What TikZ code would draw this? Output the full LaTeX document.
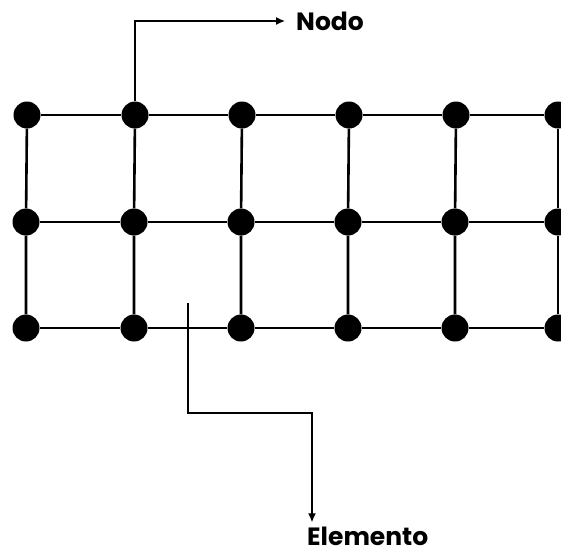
\documentclass[tikz,border=0pt]{standalone}
\usepackage{fontspec}
\setmainfont{Poppins}
\usepackage{tikz}
\usetikzlibrary{arrows.meta}

\tikzset{
	dot/.style={circle,fill=black,draw=none,minimum size=27pt,inner sep=0pt},
	tag/.style={font=\bfseries\fontsize{25}{25}\selectfont,inner xsep=11pt,inner ysep=0pt},
	bar/.style={line width=2.6pt},
	pointer/.style={line width=1.3pt,-{Latex[length=9pt,width=8pt]}}
}

\begin{document}
\begin{tikzpicture}[x=1pt,y=-1pt]
		\useasboundingbox (0,0) rectangle (561,555);
		\clip (0,0) rectangle (561,555);

		\node[dot] (A1) at (27,115) {};
		\node[dot] (A2) at (135,115) {};
		\node[dot] (A3) at (242,115) {};
		\node[dot] (A4) at (349,115) {};
		\node[dot] (A5) at (456,115) {};
		\node[dot] (A6) at (558,115) {};

		\node[dot] (B1) at (26,222) {};
		\node[dot] (B2) at (134,222) {};
		\node[dot] (B3) at (241,222) {};
		\node[dot] (B4) at (348,222) {};
		\node[dot] (B5) at (455,222) {};
		\node[dot] (B6) at (558,222) {};

		\node[dot] (C1) at (26,328) {};
		\node[dot] (C2) at (134,328) {};
		\node[dot] (C3) at (241,328) {};
		\node[dot] (C4) at (348,328) {};
		\node[dot] (C5) at (455,328) {};
		\node[dot] (C6) at (558,328) {};

		\draw[bar] (A1) -- (A2) -- (A3) -- (A4) -- (A5) -- (A6);
		\draw[bar] (B1) -- (B2) -- (B3) -- (B4) -- (B5) -- (B6);
		\draw[bar] (C1) -- (C2) -- (C3) -- (C4) -- (C5) -- (C6);

		\draw[bar] (A1) -- (B1) -- (C1);
		\draw[bar] (A2) -- (B2) -- (C2);
		\draw[bar] (A3) -- (B3) -- (C3);
		\draw[bar] (A4) -- (B4) -- (C4);
		\draw[bar] (A5) -- (B5) -- (C5);
		\draw[bar] (A6) -- (B6) -- (C6);

		\node[tag,anchor=west] (nodo) at (285,21) {Nodo};
		\draw[pointer] (A2) |- (nodo);

		\coordinate (cell) at (188,303);
		\coordinate (bend) at (312,413);
		\node[tag,anchor=base west] (elemento) at (296,545) {Elemento};
		\draw[pointer,shorten >=4pt] (cell) |- (bend) -- (bend |- elemento.north);
	\end{tikzpicture}
\end{document}
